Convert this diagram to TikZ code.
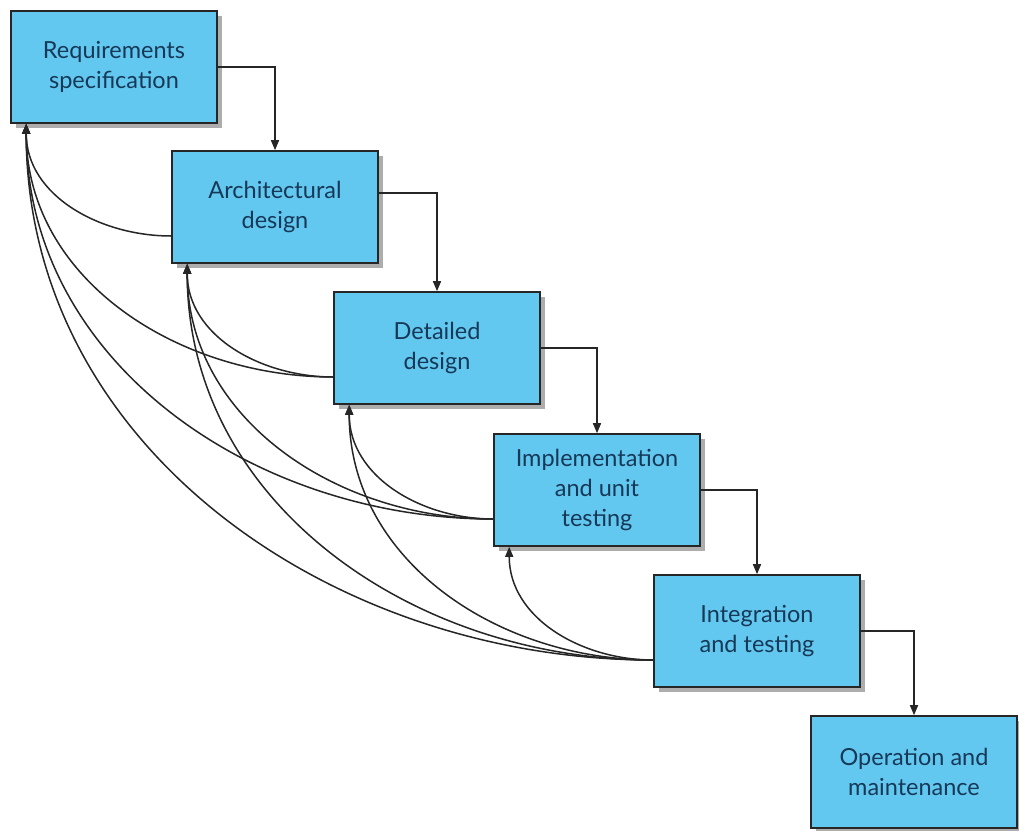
\documentclass[tikz,border=0pt]{standalone}
\usepackage{fontspec}
\setmainfont{Lato}
\usetikzlibrary{arrows.meta,shadows}
\definecolor{boxfill}{HTML}{62C8F0}
\definecolor{boxtext}{HTML}{173857}
\definecolor{edge}{HTML}{262626}
\tikzset{
  stage/.style={draw=edge, line width=1.6pt, fill=boxfill, rectangle,
    minimum width=206pt, minimum height=112pt, align=center,
    text=boxtext, font=\fontsize{23.5}{30}\selectfont,
    drop shadow={shadow xshift=5pt, shadow yshift=-5pt, fill=black!40, opacity=0.8}},
  flow/.style={draw=edge, line width=1.5pt, -{Triangle[length=10pt,width=8pt]}},
  back/.style={draw=edge, line width=1.5pt, -{Triangle[length=10pt,width=8pt]}}
}
\begin{document}
\begin{tikzpicture}[x=1pt,y=-1pt]
\useasboundingbox (0,0) rectangle (1019,830);
\node[stage] (b1) at (114,67) {Requirements\\specification};
\node[stage] (b2) at (275,207) {Architectural\\design};
\node[stage] (b3) at (437,348) {Detailed\\design};
\node[stage] (b4) at (597,490) {Implementation\\and unit\\testing};
\node[stage] (b5) at (757,631) {Integration\\and testing};
\node[stage] (b6) at (914,772) {Operation and\\maintenance};
% forward flow
\draw[flow] (b1.east) -| (b2.north);
\draw[flow] ([yshift=14pt]b2.east) -| (b3.north);
\draw[flow] (b3.east) -| (b4.north);
\draw[flow] (b4.east) -| (b5.north);
\draw[flow] (b5.east) -| (b6.north);
% feedback start/end points
\foreach \i in {2,3,4,5} {
  \coordinate (s\i) at ([yshift=-29pt]b\i.west);
}
\foreach \i in {1,2,3,4} {
  \coordinate (t\i) at ([xshift=16pt]b\i.south west);
}
% feedback curves
\draw[back] (s2) to[out=180,in=-90] (t1);
\draw[back] (s3) to[out=180,in=-90] (t1);
\draw[back] (s3) to[out=180,in=-90] (t2);
\draw[back] (s4) to[out=180,in=-90] (t1);
\draw[back] (s4) to[out=180,in=-90] (t2);
\draw[back] (s4) to[out=180,in=-90] (t3);
\draw[back] (s5) to[out=180,in=-90] (t1);
\draw[back] (s5) to[out=180,in=-90] (t2);
\draw[back] (s5) to[out=180,in=-90] (t3);
\draw[back] (s5) to[out=180,in=-90] (t4);
\end{tikzpicture}
\end{document}
